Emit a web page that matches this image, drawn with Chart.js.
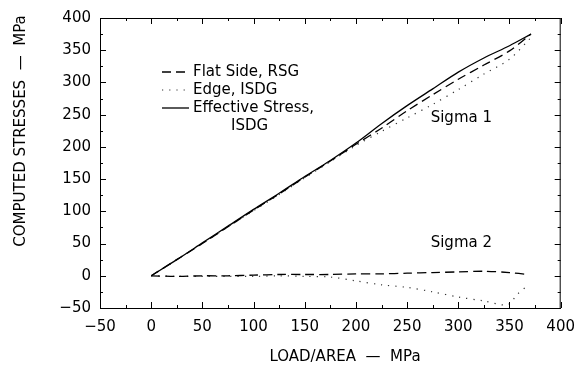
<!DOCTYPE html>
<html>
<head>
<meta charset="utf-8">
<script src="https://cdn.jsdelivr.net/npm/chart.js@4"></script>
<style>
  html, body { margin: 0; padding: 0; background: #fff; }
</style>
</head>
<body>
<canvas id="chart" width="585" height="367"></canvas>
<script>
/* ---------- data ---------- */
const loadS1 = [0, 25, 50, 75, 100, 125, 150, 175, 200, 225, 250, 275, 300, 325, 350, 371];
const flatS1 = [0, 25, 50, 76, 102, 127, 153, 178, 204, 229, 256, 281, 305, 327, 349, 375];
const effS1  = [0, 25, 51, 77, 103, 128, 154, 179, 206, 236, 264, 290, 316, 338, 357, 375];

const loadEdgeS1 = [0, 25, 50, 75, 100, 125, 150, 175, 200, 225, 250, 275, 300, 325, 350, 370];
const edgeS1     = [0, 25, 50, 76, 101, 126, 152, 177, 202, 224, 245, 266, 289, 313, 336, 368];

const loadFlatS2 = [0, 25, 50, 75, 100, 125, 150, 175, 200, 225, 250, 275, 300, 325, 350, 368];
const flatS2     = [0, -1, 0, 0, 1, 2, 2, 2, 3, 3, 4, 5, 6, 7, 5, 2];

const loadEdgeS2 = [0, 25, 50, 75, 100, 125, 150, 175, 200, 225, 250, 275, 300, 325, 348, 358, 368];
const edgeS2     = [0, -1, -1, -1, -1, 0, -1, -2, -8, -14, -18, -25, -33, -39, -45, -28, -15];

const seriesNames = ["Flat Side, RSG", "Edge, ISDG", "Effective Stress,"];
const axisTicks = [-50, 0, 50, 100, 150, 200, 250, 300, 350, 400];

/* ---------- helpers ---------- */
const FONT = "'DejaVu Sans', sans-serif";
const pts = (xs, ys) => xs.map((x, i) => ({ x, y: ys[i] }));

const DASHED = { borderColor: "#000", borderWidth: 1.3, borderDash: [9, 5] };
const DOTTED = { borderColor: "#333", borderWidth: 1.2, borderDash: [1.2, 6] };
const SOLID  = { borderColor: "#000", borderWidth: 1.3, borderDash: [] };

function line(label, data, style) {
  return Object.assign({ label, data, pointRadius: 0, tension: 0.3, fill: false }, style);
}

/* ---------- frame, inward ticks, legend, labels ---------- */
const decor = {
  id: "decor",
  afterDraw(chart) {
    const { ctx, chartArea: a, scales: { x, y } } = chart;
    ctx.save();
    ctx.strokeStyle = "#000";
    ctx.lineWidth = 1;
    ctx.strokeRect(a.left + 0.5, a.top + 0.5, a.right - a.left - 1, a.bottom - a.top);

    // inward ticks, major every 50, minor every 25
    ctx.beginPath();
    for (let v = -50; v <= 400; v += 25) {
      const len = v % 50 === 0 ? 6 : 3;
      const px = Math.round(x.getPixelForValue(v)) + 0.5;
      ctx.moveTo(px, a.bottom); ctx.lineTo(px, a.bottom - len);
      ctx.moveTo(px, a.top); ctx.lineTo(px, a.top + len);
      const py = Math.round(y.getPixelForValue(v)) + 0.5;
      ctx.moveTo(a.left, py); ctx.lineTo(a.left + len, py);
      ctx.moveTo(a.right, py); ctx.lineTo(a.right - len, py);
    }
    ctx.stroke();

    // legend
    const styles = [DASHED, DOTTED, SOLID];
    ctx.font = "15px " + FONT;
    ctx.fillStyle = "#000";
    ctx.textBaseline = "middle";
    ctx.textAlign = "left";
    seriesNames.forEach((name, i) => {
      const ly = 72 + i * 18;
      ctx.beginPath();
      ctx.setLineDash(styles[i].borderDash);
      ctx.lineWidth = styles[i].borderWidth;
      ctx.strokeStyle = styles[i].borderColor;
      ctx.moveTo(162, ly); ctx.lineTo(189, ly);
      ctx.stroke();
      ctx.fillText(name, 193, ly);
    });
    ctx.setLineDash([]);
    ctx.fillText("ISDG", 231, 126);

    // curve labels
    ctx.fillText("Sigma 1", x.getPixelForValue(273), y.getPixelForValue(244));
    ctx.fillText("Sigma 2", x.getPixelForValue(273), y.getPixelForValue(50));

    // axis titles
    ctx.textAlign = "center";
    ctx.fillText("LOAD/AREA  \u2014  MPa", 345, 357);
    ctx.translate(21, 131);
    ctx.rotate(-Math.PI / 2);
    ctx.fillText("COMPUTED STRESSES  \u2014  MPa", 0, 0);
    ctx.restore();
  }
};

const tickFmt = v => (v < 0 ? "\u2212" + Math.abs(v) : String(v));

new Chart(document.getElementById("chart"), {
  type: "line",
  data: {
    datasets: [
      line("Flat Side, RSG", pts(loadS1, flatS1), DASHED),
      line("Edge, ISDG", pts(loadEdgeS1, edgeS1), DOTTED),
      line("Effective Stress, ISDG", pts(loadS1, effS1), SOLID),
      line("Flat Side, RSG (Sigma 2)", pts(loadFlatS2, flatS2), DASHED),
      line("Edge, ISDG (Sigma 2)", pts(loadEdgeS2, edgeS2), DOTTED)
    ]
  },
  options: {
    responsive: false,
    animation: false,
    devicePixelRatio: 1,
    layout: { padding: { left: 0, right: 17, top: 17, bottom: 0 } },
    plugins: { legend: { display: false }, tooltip: { enabled: false } },
    scales: {
      x: {
        type: "linear", min: -50, max: 400,
        afterBuildTicks: s => { s.ticks = axisTicks.map(v => ({ value: v })); },
        afterFit: s => { s.height = 59; },
        grid: { drawOnChartArea: false, drawTicks: false },
        border: { color: "#000" },
        ticks: { font: { family: FONT, size: 15 }, color: "#000", padding: 10,
                 maxRotation: 0, autoSkip: false, callback: tickFmt }
      },
      y: {
        type: "linear", min: -50, max: 400,
        afterBuildTicks: s => { s.ticks = axisTicks.map(v => ({ value: v })); },
        afterFit: s => { s.width = 100; },
        grid: { drawOnChartArea: false, drawTicks: false },
        border: { color: "#000" },
        ticks: { font: { family: FONT, size: 15 }, color: "#000", padding: 9,
                 autoSkip: false, callback: tickFmt }
      }
    }
  },
  plugins: [decor]
});
</script>
</body>
</html>
